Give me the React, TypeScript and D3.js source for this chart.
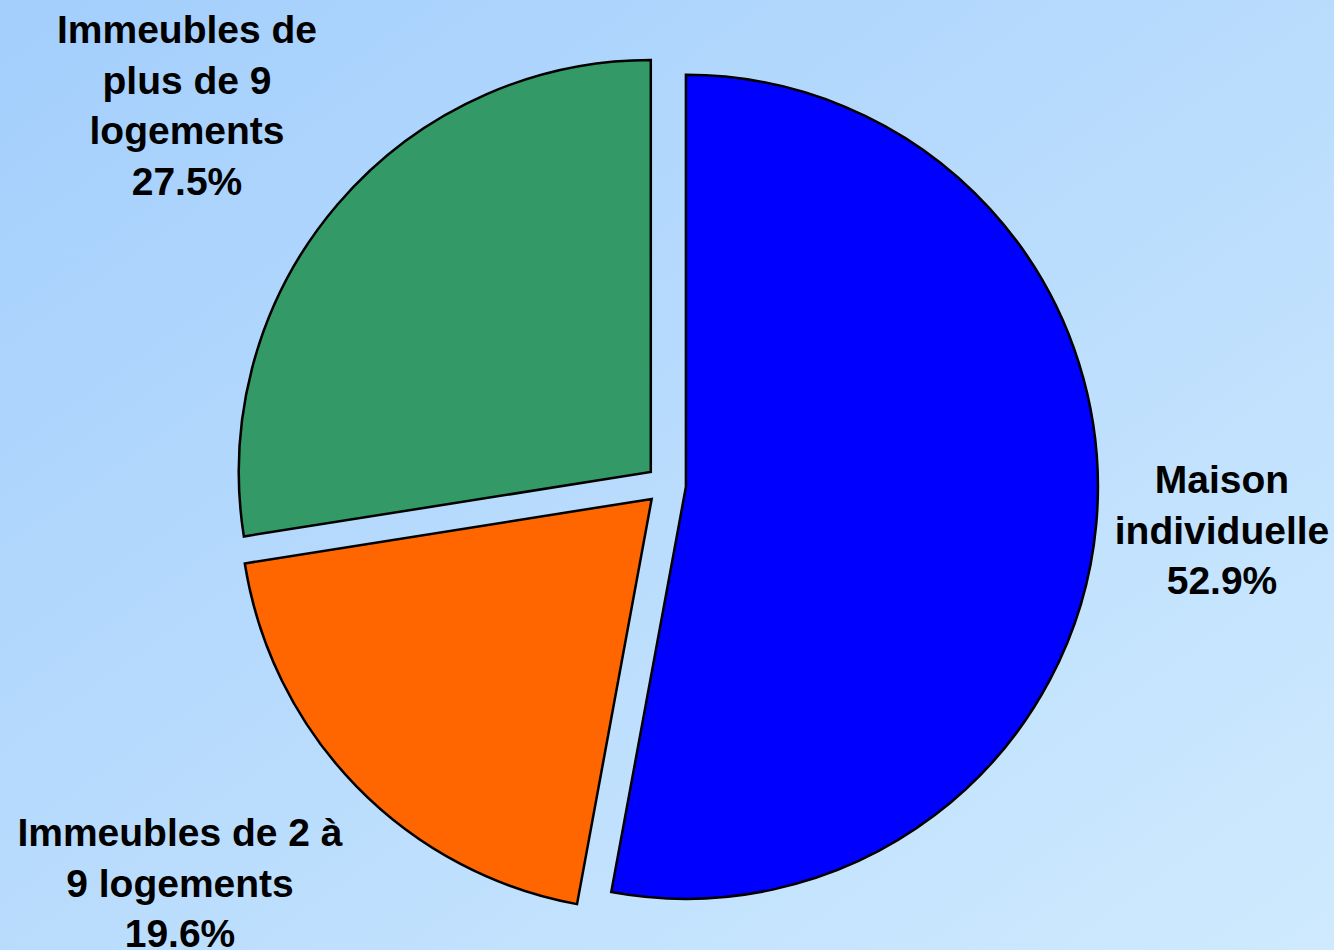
import * as d3 from "d3";
import { useEffect, useRef } from "react";

const width = 1334,
  height = 950,
  cx = 666,
  cy = 485,
  radius = 412,
  explode = 20;

const categories = ["Maison individuelle", "Immeubles de 2 à 9 logements", "Immeubles de plus de 9 logements"];
const shares = [52.9, 19.6, 27.5];
const colors = ["#0000ff", "#ff6600", "#339966"];
const labelLines = [
  ["Maison", "individuelle", "52.9%"],
  ["Immeubles de 2 à", "9 logements", "19.6%"],
  ["Immeubles de", "plus de 9", "logements", "27.5%"],
];

// label block centres (x, first baseline)
const labelPos: [number, number][] = [
  [1222, 493],
  [180, 846],
  [187, 43],
];

export default function App() {
  const ref = useRef<SVGSVGElement | null>(null);

  useEffect(() => {
    if (!ref.current) return;
    const svg = d3.select(ref.current);
    svg.selectAll("*").remove();

    const defs = svg.append("defs");
    const grad = defs
      .append("linearGradient")
      .attr("id", "bg")
      .attr("x1", "0")
      .attr("y1", "0")
      .attr("x2", "1")
      .attr("y2", "1");
    grad.append("stop").attr("offset", "0").attr("stop-color", "#a3cefc");
    grad.append("stop").attr("offset", "1").attr("stop-color", "#cfeafe");

    svg.append("rect").attr("width", width).attr("height", height).attr("fill", "url(#bg)");

    const data = categories.map((c, i) => ({ name: c, value: shares[i], i }));
    const pie = d3
      .pie<{ name: string; value: number; i: number }>()
      .sort(null)
      .value((d) => d.value);
    const arcs = pie(data);
    const arc = d3
      .arc<d3.PieArcDatum<{ name: string; value: number; i: number }>>()
      .innerRadius(0)
      .outerRadius(radius);

    const g = svg.append("g").attr("transform", `translate(${cx},${cy})`);
    g.selectAll("path")
      .data(arcs)
      .join("path")
      .attr("transform", (d) => {
        const mid = (d.startAngle + d.endAngle) / 2;
        return `translate(${Math.sin(mid) * explode},${-Math.cos(mid) * explode})`;
      })
      .attr("d", arc)
      .attr("fill", (d) => colors[d.data.i])
      .attr("stroke", "#000")
      .attr("stroke-width", 2.5)
      .attr("stroke-linejoin", "miter");

    const labels = svg
      .append("g")
      .attr("font-family", "Arial, 'Liberation Sans', sans-serif")
      .attr("font-weight", "bold")
      .attr("font-size", 39)
      .attr("fill", "#000")
      .attr("text-anchor", "middle");

    labelLines.forEach((lines, i) => {
      const [x, y] = labelPos[i];
      const t = labels.append("text").attr("x", x).attr("y", y);
      lines.forEach((line, j) => {
        t.append("tspan").attr("x", x).attr("y", y + j * 50.5).text(line);
      });
    });
  }, []);

  return (
    <svg
      ref={ref}
      width={width}
      height={height}
      style={{ position: "absolute", left: 0, top: 0, display: "block" }}
    />
  );
}
